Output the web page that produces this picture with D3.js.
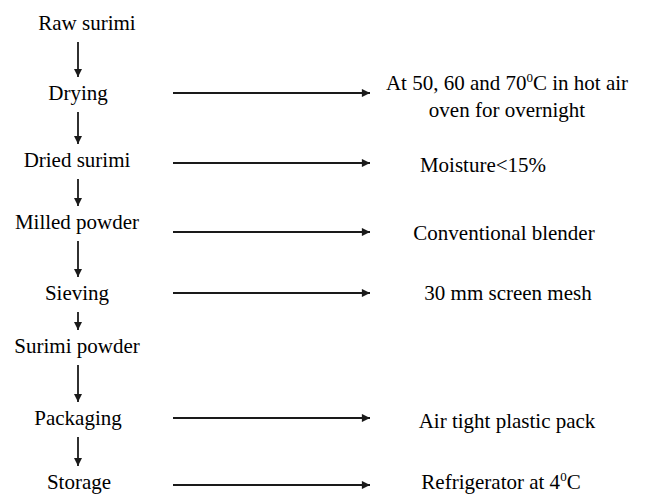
<!DOCTYPE html>
<html>
<head>
<meta charset="utf-8">
<script src="https://cdn.jsdelivr.net/npm/d3@7"></script>
</head>
<body style="margin:0">
<script>
var width=651, height=495;

// process steps, top to bottom
var steps = ["Raw surimi","Drying","Dried surimi","Milled powder","Sieving","Surimi powder","Packaging","Storage"];
// condition written to the right of a step ("" = none); lines split by "|", "^" marks a superscript
var notes = ["","At 50, 60 and 70^0^C in hot air|oven for overnight","Moisture<15%","Conventional blender","30 mm screen mesh","","Air tight plastic pack","Refrigerator at 4^0^C"];

// layout: baseline and centre of each row
var rowY = [30,100,167,229,300,353,425,489];
var stepX = [87,78,77,77,77,77,78,79];
var noteY = [0,90,172,240,300,0,428,489];
var arrowY = [0,93,163,232,293,0,418,485];
var noteX = [0,507,483,504,508,0,507,501];

var svg = d3.select("body").append("svg")
    .attr("width",width).attr("height",height);

var defs = svg.append("defs");
defs.append("marker").attr("id","head")
    .attr("viewBox","0 0 10 10").attr("refX",10).attr("refY",5)
    .attr("markerWidth",5).attr("markerHeight",4.5).attr("orient","auto")
    .attr("markerUnits","strokeWidth")
  .append("path").attr("d","M0,0L10,5L0,10Z").attr("fill","#1a1a1a");

var y = d3.scaleOrdinal().domain(steps).range(rowY);
var cx = 78;

// step labels, centred by measuring
svg.append("g").selectAll("text").data(steps).enter().append("text")
    .attr("y",function(d){return y(d);})
    .attr("font-size",21)
    .style("font-family",function(){return "'Liberation Serif'";})
    .text(function(d){return d;})
    .attr("x",function(d,i){return stepX[i]-this.getComputedTextLength()/2;});

// vertical arrows between steps
svg.append("g").selectAll("line").data(d3.pairs(steps)).enter().append("line")
    .attr("x1",cx).attr("x2",cx)
    .attr("y1",function(p){return y(p[0])+12;})
    .attr("y2",function(p){return y(p[1])-23;})
    .attr("stroke","#1a1a1a").attr("stroke-width",1.8)
    .attr("marker-end","url(#head)");

// horizontal arrows to notes
var withNote = d3.range(steps.length).filter(function(i){return notes[i]!="";});
svg.append("g").selectAll("line").data(withNote).enter().append("line")
    .attr("x1",173).attr("x2",370)
    .attr("y1",function(i){return arrowY[i];}).attr("y2",function(i){return arrowY[i];})
    .attr("stroke","#1a1a1a").attr("stroke-width",1.8)
    .attr("marker-end","url(#head)");

var g = svg.append("g");
withNote.forEach(function(i){
    notes[i].split("|").forEach(function(line,k){
        var t = g.append("text").attr("y",noteY[i]+k*27)
            .attr("font-size",21)
            .style("font-family","'Liberation Serif'");
        line.split("^").forEach(function(part,j){
            if(part=="") return;
            var s = t.append("tspan").text(part);
            if(j%2==1) s.attr("dy",-8).attr("font-size",13);
            else if(j>0) s.attr("dy",8);
        });
        t.attr("x",noteX[i]-t.node().getComputedTextLength()/2);
    });
});
</script>
</body>
</html>
